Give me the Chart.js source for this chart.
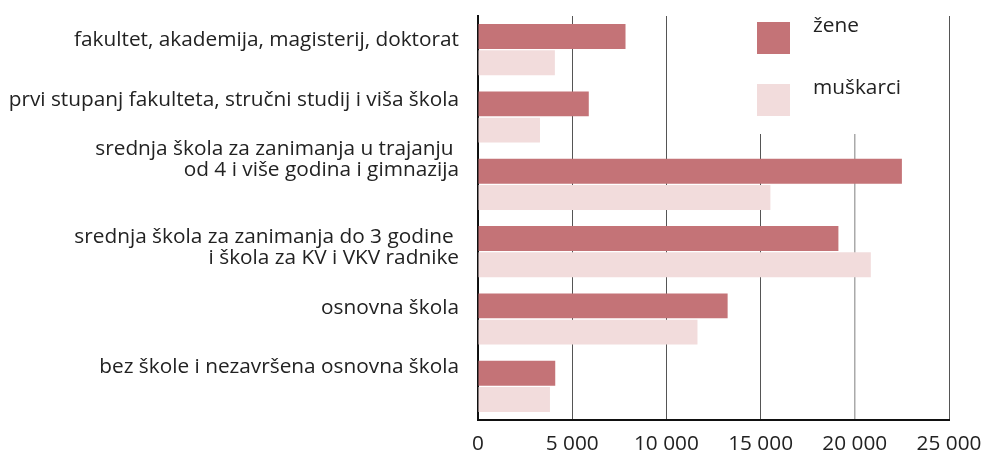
<!DOCTYPE html>
<html>
<head>
<meta charset="utf-8">
<script src="https://cdn.jsdelivr.net/npm/chart.js@4/dist/chart.umd.min.js"></script>
<style>
  html, body { margin: 0; padding: 0; background: #ffffff; }
  #wrap { width: 983px; height: 454px; position: relative; }
</style>
</head>
<body>
<div id="wrap"><canvas id="c" width="983" height="454"></canvas></div>
<script>
// ---- data ----
const categories = [
  ["fakultet, akademija, magisterij, doktorat"],
  ["prvi stupanj fakulteta, stručni studij i viša škola"],
  ["srednja škola za zanimanja u trajanju ", "od 4 i više godina i gimnazija"],
  ["srednja škola za zanimanja do 3 godine ", "i škola za KV i VKV radnike"],
  ["osnovna škola"],
  ["bez škole i nezavršena osnovna škola"]
];
const seriesNames = ["žene", "muškarci"];
const zene = [7830, 5880, 22500, 19130, 13250, 4100];
const muskarci = [4080, 3290, 15520, 20850, 11650, 3820];
const xTicks = [0, 5000, 10000, 15000, 20000, 25000];

// ---- style ----
const colZene = "#c47377";
const colMusk = "#f2dcdc";
const FONT = "'Open Sans', 'DejaVu Sans', sans-serif";
const FSIZE = 20.8;
const labelShift = [-4, -11, -8, 12, -5, -13]; // baseline of last line relative to category centre
const labelLineHeight = 21;

function fmt(v) {
  return String(v).replace(/\B(?=(\d{3})+(?!\d))/g, " ");
}

const yLabelPlugin = {
  id: "yLabels",
  afterDraw(chart) {
    const ctx = chart.ctx;
    const y = chart.scales.y;
    ctx.save();
    ctx.font = FSIZE + "px " + FONT;
    ctx.fillStyle = "#222222";
    ctx.textAlign = "right";
    ctx.textBaseline = "alphabetic";
    categories.forEach((lines, i) => {
      const base = y.getPixelForValue(i) + labelShift[i];
      const n = lines.length;
      lines.forEach((ln, j) => {
        ctx.fillText(ln, 459, base - (n - 1 - j) * labelLineHeight);
      });
    });
    ctx.restore();
  }
};

const legendPlugin = {
  id: "customLegend",
  afterDatasetsDraw(chart) {
    const ctx = chart.ctx;
    ctx.save();
    // white box hiding gridlines behind legend
    ctx.fillStyle = "#ffffff";
    ctx.fillRect(690, chart.chartArea.top - 2, 245, 134 - chart.chartArea.top + 2);
    const items = [
      { name: seriesNames[0], color: colZene, sq: 22, base: 32 },
      { name: seriesNames[1], color: colMusk, sq: 84, base: 94 }
    ];
    ctx.font = FSIZE + "px " + FONT;
    ctx.textAlign = "left";
    ctx.textBaseline = "alphabetic";
    items.forEach(it => {
      ctx.fillStyle = it.color;
      ctx.fillRect(757, it.sq, 33, 32);
      ctx.fillStyle = "#222222";
      ctx.fillText(it.name, 813, it.base);
    });
    ctx.restore();
  }
};

new Chart(document.getElementById("c"), {
  type: "bar",
  data: {
    labels: categories.map(c => c.join(" ")),
    datasets: [
      { label: seriesNames[0], data: zene, backgroundColor: colZene, categoryPercentage: 0.78, barPercentage: 0.95 },
      { label: seriesNames[1], data: muskarci, backgroundColor: colMusk, categoryPercentage: 0.78, barPercentage: 0.95 }
    ]
  },
  options: {
    indexAxis: "y",
    responsive: false,
    animation: false,
    devicePixelRatio: 1,
    layout: { padding: { top: 16, right: 34, bottom: 0, left: 0 } },
    plugins: { legend: { display: false }, tooltip: { enabled: false } },
    scales: {
      x: {
        min: 0, max: 25000,
        afterBuildTicks(scale) { scale.ticks = xTicks.map(v => ({ value: v })); },
        afterFit(scale) { scale.paddingLeft = 0; scale.paddingRight = 0; scale.height = 34; },
        border: { display: true, color: "#111111", width: 2 },
        grid: {
          drawTicks: false,
          color: ctx => (ctx.tick && ctx.tick.value === 0) ? "rgba(0,0,0,0)" : (ctx.tick && ctx.tick.value === 20000 ? "#aaaaaa" : "#555555"),
          lineWidth: ctx => (ctx.tick && ctx.tick.value === 20000) ? 1.5 : 1
        },
        ticks: {
          padding: 12,
          color: "#222222",
          font: { family: FONT, size: FSIZE },
          callback: v => fmt(v),
          maxRotation: 0
        }
      },
      y: {
        border: { display: true, color: "#111111", width: 2 },
        grid: { display: false, drawTicks: false },
        ticks: { display: false },
        afterFit(scale) { scale.width = 478; }
      }
    }
  },
  plugins: [yLabelPlugin, legendPlugin]
});
</script>
</body>
</html>
